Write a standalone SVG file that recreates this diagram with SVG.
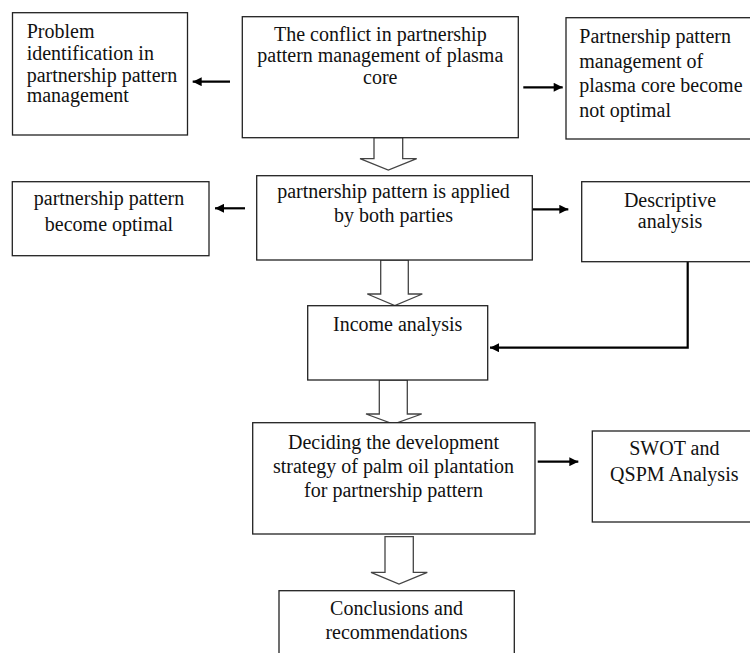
<svg xmlns="http://www.w3.org/2000/svg" width="750" height="653" viewBox="0 0 750 653">
<defs>
<style>
.box{fill:#fff;stroke:#222;stroke-width:1.3}
.t{font-family:"Liberation Serif","Times New Roman",serif;font-size:20px;fill:#111}
.c{text-anchor:middle}
.con{fill:none;stroke:#000;stroke-width:2.2}
.hol{fill:#fff;stroke:#444;stroke-width:1.3;stroke-linejoin:miter}
</style>
<marker id="ah" viewBox="0 0 10 10" refX="10" refY="5" markerWidth="10" markerHeight="9" markerUnits="userSpaceOnUse" orient="auto"><path d="M0,0 L10,5 L0,10 z" fill="#000"/></marker>
</defs>
<rect width="750" height="653" fill="#fff"/>
<g id="connectors">
<path class="con" d="M230,81.7 L192.7,81.7" marker-end="url(#ah)"/>
<path class="con" d="M523.3,87.3 L562.7,87.3" marker-end="url(#ah)"/>
<path class="con" d="M245,208.3 L215,208.3" marker-end="url(#ah)"/>
<path class="con" d="M529,209.3 L568.3,209.3" marker-end="url(#ah)"/>
<path class="con" d="M687.7,261.7 L687.7,347.7 L490,347.7" marker-end="url(#ah)"/>
<path class="con" d="M537.7,461.7 L578.3,461.7" marker-end="url(#ah)"/>
<polygon class="hol" points="374,137.7 402.7,137.7 402.7,158.7 416.7,158.7 388.3,170 360,158.7 374,158.7"/>
<polygon class="hol" points="380.7,260 408.3,260 408.3,294 422.3,294 394.8,305.5 367.3,294 380.7,294"/>
<polygon class="hol" points="379.3,380 407.3,380 407.3,414 421.7,414 393.5,424 366,414 379.3,414"/>
<polygon class="hol" points="385,536.7 413.3,536.7 413.3,572.3 427.3,572.3 399,584 371,572.3 385,572.3"/>
</g>
<g id="problem">
<rect class="box" x="12.5" y="12.7" width="175" height="122.3"/>
<text class="t" x="26.7" y="38.3">Problem</text>
<text class="t" x="26.7" y="59.5">identification in</text>
<text class="t" x="26.7" y="81.5">partnership pattern</text>
<text class="t" x="26.7" y="102">management</text>
</g>
<g id="conflict">
<rect class="box" x="242.3" y="16.7" width="276" height="121"/>
<text class="t c" x="380.3" y="40.5">The conflict in partnership</text>
<text class="t c" x="380.3" y="62">pattern management of plasma</text>
<text class="t c" x="380.3" y="83.5">core</text>
</g>
<g id="notoptimal">
<rect class="box" x="566" y="17.7" width="200" height="121.3"/>
<text class="t" x="579.3" y="42.7">Partnership pattern</text>
<text class="t" x="579.3" y="67.5">management of</text>
<text class="t" x="579.3" y="92.3">plasma core become</text>
<text class="t" x="579.3" y="117">not optimal</text>
</g>
<g id="optimal">
<rect class="box" x="12.3" y="181.7" width="196.7" height="74"/>
<text class="t c" x="109" y="205">partnership pattern</text>
<text class="t c" x="109" y="230.7">become optimal</text>
</g>
<g id="applied">
<rect class="box" x="256.7" y="175.7" width="275.6" height="84.3"/>
<text class="t c" x="393.5" y="198.3">partnership pattern is applied</text>
<text class="t c" x="393.5" y="221.7">by both parties</text>
</g>
<g id="descriptive">
<rect class="box" x="581.7" y="181.7" width="190" height="80"/>
<text class="t c" x="670" y="206.7">Descriptive</text>
<text class="t c" x="670" y="227.7">analysis</text>
</g>
<g id="income">
<rect class="box" x="307.7" y="305.7" width="180" height="74.3"/>
<text class="t c" x="397.7" y="331">Income analysis</text>
</g>
<g id="deciding">
<rect class="box" x="252.7" y="422.7" width="282.3" height="111.3"/>
<text class="t c" x="393.5" y="449">Deciding the development</text>
<text class="t c" x="393.5" y="473.3">strategy of palm oil plantation</text>
<text class="t c" x="393.5" y="496.7">for partnership pattern</text>
</g>
<g id="swot">
<rect class="box" x="592.3" y="431" width="180" height="91"/>
<text class="t c" x="674.3" y="455">SWOT and</text>
<text class="t c" x="674.3" y="480.7">QSPM Analysis</text>
</g>
<g id="conclusions">
<rect class="box" x="279" y="590.7" width="235.3" height="80"/>
<text class="t c" x="396.5" y="615">Conclusions and</text>
<text class="t c" x="396.5" y="639.3">recommendations</text>
</g>
</svg>
